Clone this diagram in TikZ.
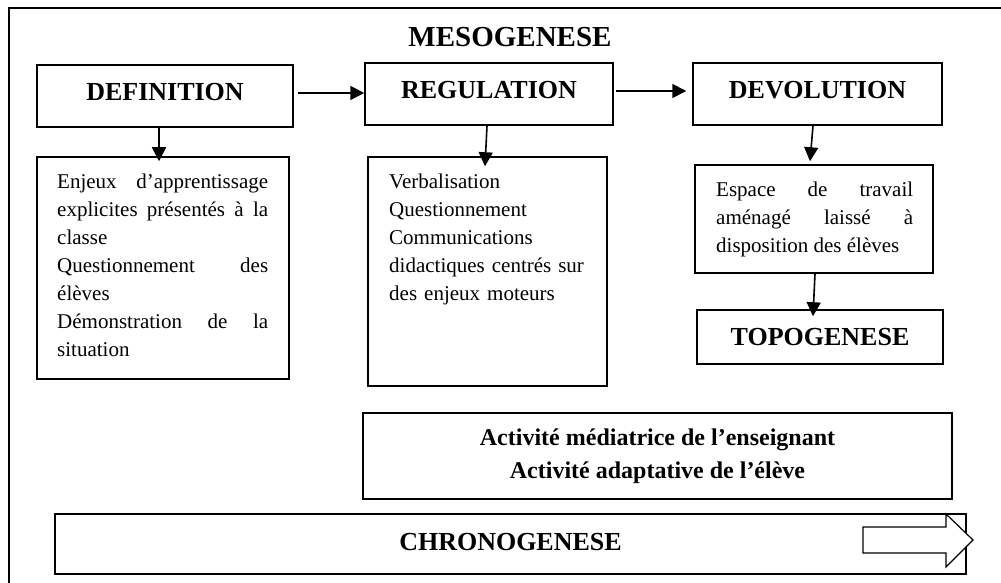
\documentclass[tikz,border=0pt]{standalone}
\usepackage{fontspec}
\setmainfont{Liberation Serif}
\usetikzlibrary{arrows.meta}

\begin{document}
\begin{tikzpicture}[x=1pt,y=-1pt,
  box/.style={draw, line width=1.5pt, inner sep=0pt},
  phase/.style={box, font=\bfseries\fontsize{26}{30}\selectfont, text depth=8pt},
  body/.style={inner sep=0pt, anchor=north west, align=justify, font=\fontsize{21}{28}\selectfont},
  arr/.style={line width=1.6pt, -{Triangle[length=14pt,width=14pt]}}]
\useasboundingbox (0,0) rectangle (1001,583);
\clip (0,0) rectangle (1001,583);
% frame
\draw[line width=1.5pt] (9,600) -- (9,8) -- (1020,8);

% nodes
\node (meso) at (510,37) {\bfseries\fontsize{29}{34}\selectfont MESOGENESE};

\node[phase, minimum width=256pt, minimum height=62pt] (def) at (165,96) {DEFINITION};
\node[phase, minimum width=248pt, minimum height=62pt] (reg) at (489,94) {REGULATION};
\node[phase, minimum width=249pt, minimum height=62pt] (dev) at (817.5,94) {DEVOLUTION};

\node[box, minimum width=252pt, minimum height=222pt] (defbox) at (163,268) {};
\node[body, text width=211pt] (deftext) at (57,173.5)
  {Enjeux d’apprentissage\linebreak explicites présentés à la\linebreak classe\\
   Questionnement des\linebreak élèves\\
   Démonstration de la\linebreak situation};

\node[box, minimum width=239pt, minimum height=229pt] (regbox) at (487.5,271.5) {};
\node[body, text width=200pt, align=left] (regtext) at (389,173.5)
  {Verbalisation\\ Questionnement\\ Communications\\ didactiques centrés sur\\ des enjeux moteurs};

\node[box, minimum width=238pt, minimum height=108pt] (devbox) at (814,219) {};
\node[body, text width=197pt] (devtext) at (716,181.5)
  {Espace de travail\linebreak aménagé laissé à\linebreak disposition des élèves};

\node[phase, minimum width=246pt, minimum height=54pt, text depth=0pt] (topo) at (820,337) {TOPOGENESE};

\node[box, minimum width=589pt, minimum height=86pt, align=center,
  font=\bfseries\fontsize{24}{33}\selectfont] (act) at (657.5,456)
  {Activité médiatrice de l’enseignant\\ Activité adaptative de l’élève};

\node[phase, minimum width=911pt, minimum height=60pt, text depth=5pt] (chrono) at (510.5,544) {CHRONOGENESE};
\draw[line width=1.2pt, fill=white] (863,527) -- (946,527) -- (946,514) -- (973,540)
  -- (946,567) -- (946,553) -- (863,553) -- cycle;

% arrows
\draw[arr] ([xshift=4pt,yshift=3pt]def.east) -- ([yshift=1pt]reg.west);
\draw[arr] ([xshift=2pt,yshift=3pt]reg.east) -- ([xshift=-6pt,yshift=3pt]dev.west);
\draw[arr] ([xshift=-6pt]def.south) -- ([xshift=-4pt,yshift=-5pt]defbox.north);
\draw[arr] ([xshift=-2pt]reg.south) -- ([xshift=-2.5pt,yshift=-10pt]regbox.north);
\draw[arr] ([xshift=-4.5pt]dev.south) -- ([xshift=-4pt,yshift=3pt]devbox.north);
\draw[arr] ([xshift=1pt]devbox.south) -- ([xshift=-7pt,yshift=-7pt]topo.north);
\end{tikzpicture}
\end{document}
